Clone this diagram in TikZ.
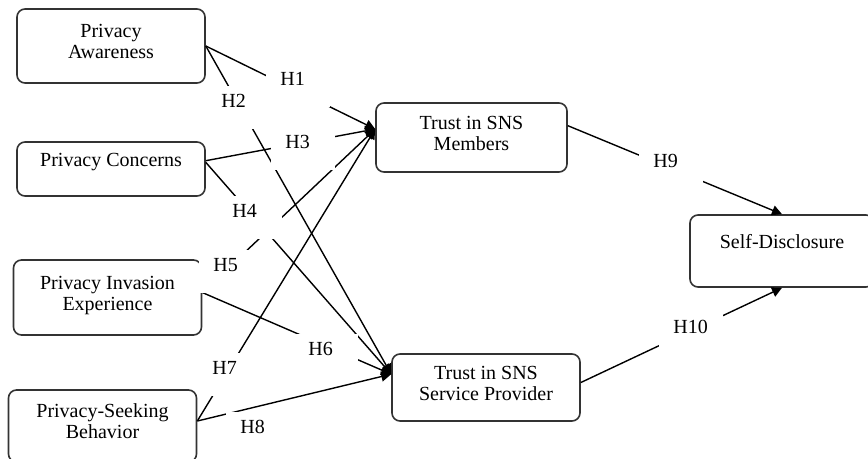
\documentclass[tikz,border=0pt]{standalone}
\usepackage{fontspec}
\setmainfont{Liberation Serif}
\usepackage{tikz}
\usetikzlibrary{arrows.meta}

\begin{document}
\begin{tikzpicture}[
    x=0.5pt, y=-0.5pt,
    construct/.style={rectangle, draw=black!80, line width=0.8pt, rounded corners=4pt, minimum width=94pt, minimum height=35pt, align=center, font=\fontsize{10}{10.5}\selectfont},
    oneline/.style={text height=7pt, text depth=9pt},
    twoline/.style={text depth=4.5pt},
    hyp/.style={-{Triangle[length=5pt, width=5pt]}, line width=0.7pt},
    hlabel/.style={fill=white, anchor=base west, inner xsep=7pt, inner ysep=2pt, text width=18pt, align=left, text height=8.75pt, text depth=8.75pt, font=\fontsize{10}{10.5}\selectfont},
]
\useasboundingbox (0,0) rectangle (868,459);

% Constructs
\node[construct, twoline, minimum height=37pt] (pa) at (111,46) {Privacy\\Awareness};
\node[construct, oneline, minimum height=27pt] (pc) at (111,169) {Privacy Concerns};
\node[construct, twoline, minimum height=37.5pt] (pie) at (107.5,297.5) {Privacy Invasion\\Experience};
\node[construct, twoline, minimum height=36pt] (psb) at (102.5,426) {Privacy-Seeking\\Behavior};
\node[construct, twoline, minimum width=95.5pt, minimum height=34.5pt] (tsm) at (471.5,137.5) {Trust in SNS\\Members};
\node[construct, twoline, minimum height=33.5pt] (tssp) at (486,387.5) {Trust in SNS\\Service Provider};
\node[construct, oneline, minimum width=92pt, minimum height=36pt] (sd) at (782,251) {Self-Disclosure};

% Hypothesised paths
\draw[hyp] (pa.east) -- (tsm.175);
\draw[hyp] (pa.east) -- (tssp.172);
\draw[hyp] (pc.5) -- (tsm.175);
\draw[hyp] (pc.4) -- (tssp.172);
\draw[hyp] (pie.3) -- (tsm.175);
\draw[hyp] (pie.3) -- (tssp.172);
\draw[hyp] (psb.3) -- (tsm.175);
\draw[hyp] (psb.3) -- (tssp.172);
\draw[hyp] (tsm.7) -- (sd.north);
\draw[hyp] (tssp.3) -- (sd.south);

% Path labels (white boxes over the lines)
\node[hlabel] (h1) at (266,86) {H1};
\node[hlabel] (h2) at (207,108) {H2};
\node[hlabel] (h3) at (271,149) {H3};
\node[hlabel] (h4) at (218,218) {H4};
\node[hlabel] (h5) at (199,272) {H5};
\node[hlabel] (h6) at (294,356) {H6};
\node[hlabel] (h7) at (198,375) {H7};
\node[hlabel] (h8) at (226,434) {H8};
\node[hlabel] (h9) at (639,168) {H9};
\node[hlabel] (h10) at (659,334) {H10};

\end{tikzpicture}
\end{document}
